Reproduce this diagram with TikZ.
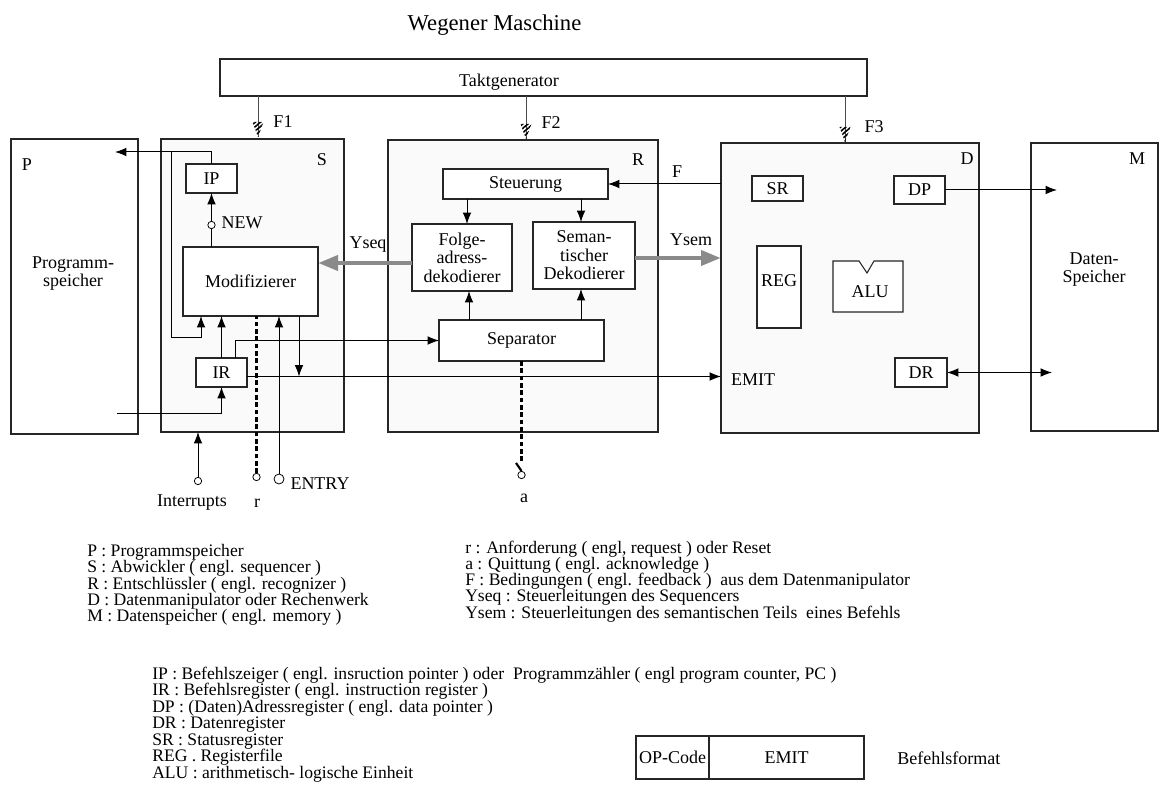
\documentclass[tikz,border=0pt]{standalone}
\usepackage{fontspec}
\setmainfont{Liberation Serif}
\usetikzlibrary{arrows.meta,calc,patterns.meta}
\definecolor{ygray}{RGB}{138,138,138}
\newcommand\hatchtip[1]{\fill[pattern={Lines[angle=40,distance=2.5pt,line width=1.2pt]},pattern color=black] ($(#1)+(-5.5,-15)$) -- ($(#1)+(5.5,-15)$) -- (#1) -- cycle;}
\begin{document}
\begin{tikzpicture}[x=0.75pt,y=-0.75pt,
  every node/.style={font=\fontsize{13.5pt}{16pt}\selectfont},
  bx/.style 2 args={draw=black!85,line width=0.8pt,fill=white,inner sep=0pt,outer sep=0pt,minimum width=#1*0.75pt,minimum height=#2*0.75pt},
  unitbox/.style={fill=black!2},
  lbl/.style={inner sep=0pt},
  leg/.style={anchor=base west,inner sep=0pt,font=\fontsize{13.2pt}{15pt}\selectfont},
  circ/.style={circle,draw=black,line width=0.6pt,fill=white,inner sep=0pt,minimum size=5.5pt},
  ln/.style={line width=0.75pt},
  arr/.style={line width=0.75pt,-{Latex[length=8.5pt,width=6.5pt]}},
  darr/.style={line width=0.75pt,{Latex[length=8.5pt,width=6.5pt]}-{Latex[length=8.5pt,width=6.5pt]}},
  garr/.style={draw=ygray,line width=3.5pt,-{Triangle[length=15pt,width=11pt]}},
  dsh/.style={line width=1.6pt,dash pattern=on 3.5pt off 2pt},
  fline/.style={line width=0.5pt,draw=black!70},
  multi/.style={align=center,font=\fontsize{13.5pt}{13.9pt}\selectfont}
]
\fill[white] (0,0) rectangle (1159,802);
\useasboundingbox (0,0) rectangle (1159,802);

% title and clock
\node[lbl,font=\fontsize{17pt}{20pt}\selectfont] (title) at (494.5,25) {Wegener Maschine};
\node[bx={647}{37}] (takt) at (543.5,77.5) {};
\node[lbl] (taktt) at (509,82) {Taktgenerator};

% main blocks
\node[bx={127}{295}] (P) at (74.5,286.5) {};
\node[bx={183}{293},unitbox] (S) at (252.5,285.5) {};
\node[bx={270}{292},unitbox] (R) at (523,286) {};
\node[bx={258}{290},unitbox] (D) at (850,288) {};
\node[bx={127}{288}] (M) at (1094.5,287) {};

\node[lbl] (Pl) at (27,165) {P};
\node[lbl] (Sl) at (322,160) {S};
\node[lbl] (Rl) at (638,160) {R};
\node[lbl] (Dl) at (967,159) {D};
\node[lbl] (Ml) at (1137,159) {M};
\node[lbl,multi,font=\fontsize{13.5pt}{13.5pt}\selectfont] (Pt) at (73,274) {Programm-\\speicher};
\node[lbl,multi,font=\fontsize{13.5pt}{13.5pt}\selectfont] (Mt) at (1094,270) {Daten-\\Speicher};

% S internals
\node[bx={51}{29}] (IP) at (211.5,178.5) {IP};
\node[bx={135}{69}] (Mod) at (250.5,281.5) {Modifizierer};
\node[bx={51}{29}] (IR) at (221.5,372.5) {IR};

% R internals
\node[bx={165}{30}] (Steu) at (525.5,184) {Steuerung};
\node[bx={100}{67},multi] (Folge) at (462,257.5) {Folge-\\adress-\\dekodierer};
\node[bx={102}{67},multi] (Sem) at (584,255.5) {Seman-\\tischer\\Dekodierer};
\node[bx={165}{41}] (Sep) at (521.5,340.5) {Separator};

% D internals
\node[bx={51}{25}] (SR) at (777.5,188.5) {SR};
\node[bx={51}{28}] (DP) at (919.5,190) {DP};
\node[bx={44}{82}] (REG) at (779,287) {};
\node[lbl] (REGt) at (779,281) {REG};
\node[bx={52}{29}] (DR) at (921,372.5) {DR};
\draw[draw=black!85,line width=0.8pt,fill=white] (833,261) -- (859,261) -- (867,273) -- (874,261) -- (903,261) -- (903,312) -- (833,312) -- cycle;
\node[lbl] (ALU) at (870,292) {ALU};
\node[lbl] (EMITl) at (753,380) {EMIT};

% clock lines
\coordinate (f1) at ($(S.north)+(5.5,-2)$);
\coordinate (f2) at ($(R.north)+(3,-1)$);
\coordinate (f3) at ($(D.north)+(-5,-1)$);
\draw[fline] (f1 |- takt.south) -- (f1);
\draw[fline] (f2 |- takt.south) -- (f2);
\draw[fline] (f3 |- takt.south) -- (f3);
\hatchtip{f1}
\hatchtip{f2}
\hatchtip{f3}
\node[lbl] (F1l) at (283,122) {F1};
\node[lbl] (F2l) at (551,123) {F2};
\node[lbl] (F3l) at (874,127) {F3};

% S connectors
\coordinate (pin) at (115,152);
\draw[arr] (IP.north) |- (pin);
\coordinate (loopTop) at (171,152);
\draw[arr] (loopTop) |- ($(Mod.south west)+(18,21)$) -- ($(Mod.south west)+(18,0)$);
\draw[arr] (IR.north) -- (IR.north |- Mod.south);
\coordinate (pout) at (117,413);
\draw[arr] (pout) -| (IR.south);
\draw[arr] ($(IR.north east)+(-12,0)$) |- (Sep.west);
\coordinate (emitS) at ($(IR.east)+(0,4)$);
\draw[arr] (emitS) -- (emitS -| D.west);
\draw[arr] ($(Mod.south east)+(-19,0)$) -- ($(Mod.south east)+(-19,60.5)$);

\node[circ] (newc) at (211.5,225) {};
\draw[ln] (IP.south |- Mod.north) -- (newc.south);
\draw[arr] (newc.north) -- (IP.south);
\node[lbl] (NEWl) at (242,223) {NEW};

\node[circ,minimum size=7.5pt] (entry) at (279,479) {};
\draw[arr] (entry.north) -- (entry.north |- Mod.south);
\node[circ] (rc) at (256.5,477) {};
\draw[dsh] (rc.north) -- (rc.north |- Mod.south);
\node[circ] (intc) at (198,481) {};
\draw[arr] (intc.north) -- (intc.north |- S.south);
\node[lbl] (intl) at (192,503) {Interrupts};
\node[lbl] (rl) at (257,503) {r};
\node[lbl] (entl) at (320,484) {ENTRY};

% R connectors
\draw[arr] (D.west |- Steu.east) -- (Steu.east);
\node[lbl] (Fl) at (677,172) {F};
\coordinate (fa) at ($(Folge.north)+(5,0)$);
\draw[arr] (fa |- Steu.south) -- (fa);
\coordinate (sa) at ($(Sem.north)+(-3,0)$);
\draw[arr] (sa |- Steu.south) -- (sa);
\coordinate (fb) at ($(Folge.south)+(7,0)$);
\draw[arr] (fb |- Sep.north) -- (fb);
\coordinate (sb) at ($(Sem.south)+(-3,0)$);
\draw[arr] (sb |- Sep.north) -- (sb);
\coordinate (ys) at ($(Folge.west)+(0,5.5)$);
\draw[garr] (ys) -- (ys -| Mod.east);
\node[lbl] (Yseql) at (368,245) {Yseq};
\coordinate (ysm) at ($(Sem.east)+(0,2.5)$);
\draw[garr] (ysm) -- (ysm -| D.west);
\node[lbl] (Yseml) at (691,240) {Ysem};

\node[circ] (ac) at (521.5,475) {};
\draw[dsh] (Sep.south) -- ($(Sep.south)+(0,100)$);
\draw[line width=1.6pt] ($(ac.north)+(-5.5,-8)$) -- (ac.north);
\node[lbl] (al) at (524,498) {a};

% D connectors
\coordinate (mdp) at (1057,190);
\draw[arr] (DP.east) -- (mdp);
\coordinate (mdr) at (1052,372.5);
\draw[darr] (DR.east) -- (mdr);

% legend
\node[leg] (L1) at (87,556.5) {P : Programmspeicher};
\node[leg] (L2) at (87,572.8) {S : Abwickler ( engl. sequencer )};
\node[leg] (L3) at (87,589.1) {R : Entschlüssler ( engl. recognizer )};
\node[leg] (L4) at (87,605.4) {D : Datenmanipulator oder Rechenwerk};
\node[leg] (L5) at (87,621.7) {M : Datenspeicher ( engl. memory )};

\node[leg] (R1) at (465,553) {r : Anforderung ( engl, request ) oder Reset};
\node[leg] (R2) at (465,569.3) {a : Quittung ( engl. acknowledge )};
\node[leg] (R3) at (465,585.6) {F : Bedingungen ( engl. feedback )~ aus dem Datenmanipulator};
\node[leg] (R4) at (465,601.9) {Yseq : Steuerleitungen des Sequencers};
\node[leg] (R5) at (465,618.2) {Ysem : Steuerleitungen des semantischen Teils~ eines Befehls};

\node[leg] (B1) at (152,679) {IP : Befehlszeiger ( engl. insruction pointer ) oder~ Programmzähler ( engl program counter, PC )};
\node[leg] (B2) at (152,695.5) {IR : Befehlsregister ( engl. instruction register )};
\node[leg] (B3) at (152,712) {DP : (Daten)Adressregister ( engl. data pointer )};
\node[leg] (B4) at (152,728.5) {DR : Datenregister};
\node[leg] (B5) at (152,745) {SR : Statusregister};
\node[leg] (B6) at (152,761.5) {REG . Registerfile};
\node[leg] (B7) at (152,778) {ALU : arithmetisch- logische Einheit};

\node[bx={73}{43}] (opc) at (672.5,757.5) {OP-Code};
\node[bx={155}{43}] (emf) at (786.5,757.5) {EMIT};
\node[lbl,anchor=west] (bfl) at (897,758) {Befehlsformat};
\end{tikzpicture}
\end{document}
